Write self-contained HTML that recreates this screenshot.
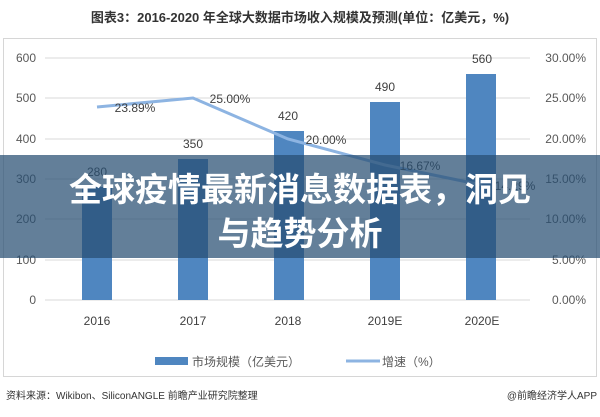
<!DOCTYPE html>
<html><head><meta charset="utf-8"><style>
body{margin:0;width:600px;height:412px;background:#fff;overflow:hidden;font-family:"Liberation Sans","Noto Sans CJK SC",sans-serif;}
</style></head><body>
<svg width="600" height="412" xmlns="http://www.w3.org/2000/svg" font-family="Liberation Sans, Noto Sans CJK SC, sans-serif">
<text x="300" y="22" text-anchor="middle" font-size="13" font-weight="bold" fill="#333">图表3：2016-2020 年全球大数据市场收入规模及预测(单位：亿美元，%)</text>
<rect x="3.5" y="38.5" width="593" height="338" fill="#fff" stroke="#d6d6d6"/>
<g stroke="#d9d9d9" stroke-width="1">
<line x1="45" x2="530" y1="58" y2="58"/><line x1="45" x2="530" y1="98" y2="98"/><line x1="45" x2="530" y1="139" y2="139"/><line x1="45" x2="530" y1="179" y2="179"/><line x1="45" x2="530" y1="219" y2="219"/><line x1="45" x2="530" y1="260" y2="260"/><line x1="45" x2="530" y1="300" y2="300"/>
</g>
<g font-size="12" fill="#595959" text-anchor="end">
<text x="36" y="62">600</text><text x="36" y="102">500</text><text x="36" y="143">400</text><text x="36" y="183">300</text><text x="36" y="223">200</text><text x="36" y="264">100</text><text x="36" y="304">0</text>
</g>
<g font-size="12" fill="#595959" text-anchor="end">
<text x="586" y="62">30.00%</text><text x="586" y="102">25.00%</text><text x="586" y="143">20.00%</text><text x="586" y="183">15.00%</text><text x="586" y="223">10.00%</text><text x="586" y="264">5.00%</text><text x="586" y="304">0.00%</text>
</g>
<g fill="#4f86c0">
<rect x="82" y="187" width="30" height="113"/><rect x="178" y="159" width="30" height="141"/><rect x="274" y="131" width="30" height="169"/><rect x="370" y="102" width="30" height="198"/><rect x="466" y="74" width="30" height="226"/>
</g>
<polyline points="97,107 193,98 288,139 385,165 482,185" fill="none" stroke="#8db4e2" stroke-width="3"/>
<g font-size="12" fill="#404040" text-anchor="middle">
<text x="97" y="176">280</text><text x="193" y="148">350</text><text x="288" y="120">420</text><text x="385" y="91">490</text><text x="482" y="63">560</text>
<text x="135" y="112">23.89%</text><text x="230" y="103">25.00%</text><text x="326" y="144">20.00%</text><text x="420" y="170">16.67%</text><text x="515" y="190">14.29%</text>
<text x="97" y="325">2016</text><text x="193" y="325">2017</text><text x="288" y="325">2018</text><text x="385" y="325">2019E</text><text x="482" y="325">2020E</text>
</g>
<rect x="155" y="357" width="33" height="8" fill="#4f86c0"/>
<text x="192" y="366" font-size="12" fill="#595959">市场规模（亿美元）</text>
<line x1="346" x2="380" y1="361" y2="361" stroke="#8db4e2" stroke-width="3"/>
<text x="382" y="366" font-size="12" fill="#595959">增速（%）</text>
<text x="6" y="399" font-size="10" fill="#333">资料来源：Wikibon、SiliconANGLE 前瞻产业研究院整理</text>
<text x="597" y="399" font-size="10" fill="#333" text-anchor="end">@前瞻经济学人APP</text>
<rect x="0" y="155" width="600" height="103" fill="#274e72" fill-opacity="0.72"/>
<g font-size="33" font-weight="bold" fill="#fff" text-anchor="middle" font-family="Noto Sans CJK SC, sans-serif">
<text x="300" y="201">全球疫情最新消息数据表，洞见</text>
<text x="300" y="245">与趋势分析</text>
</g>
</svg>
</body></html>
